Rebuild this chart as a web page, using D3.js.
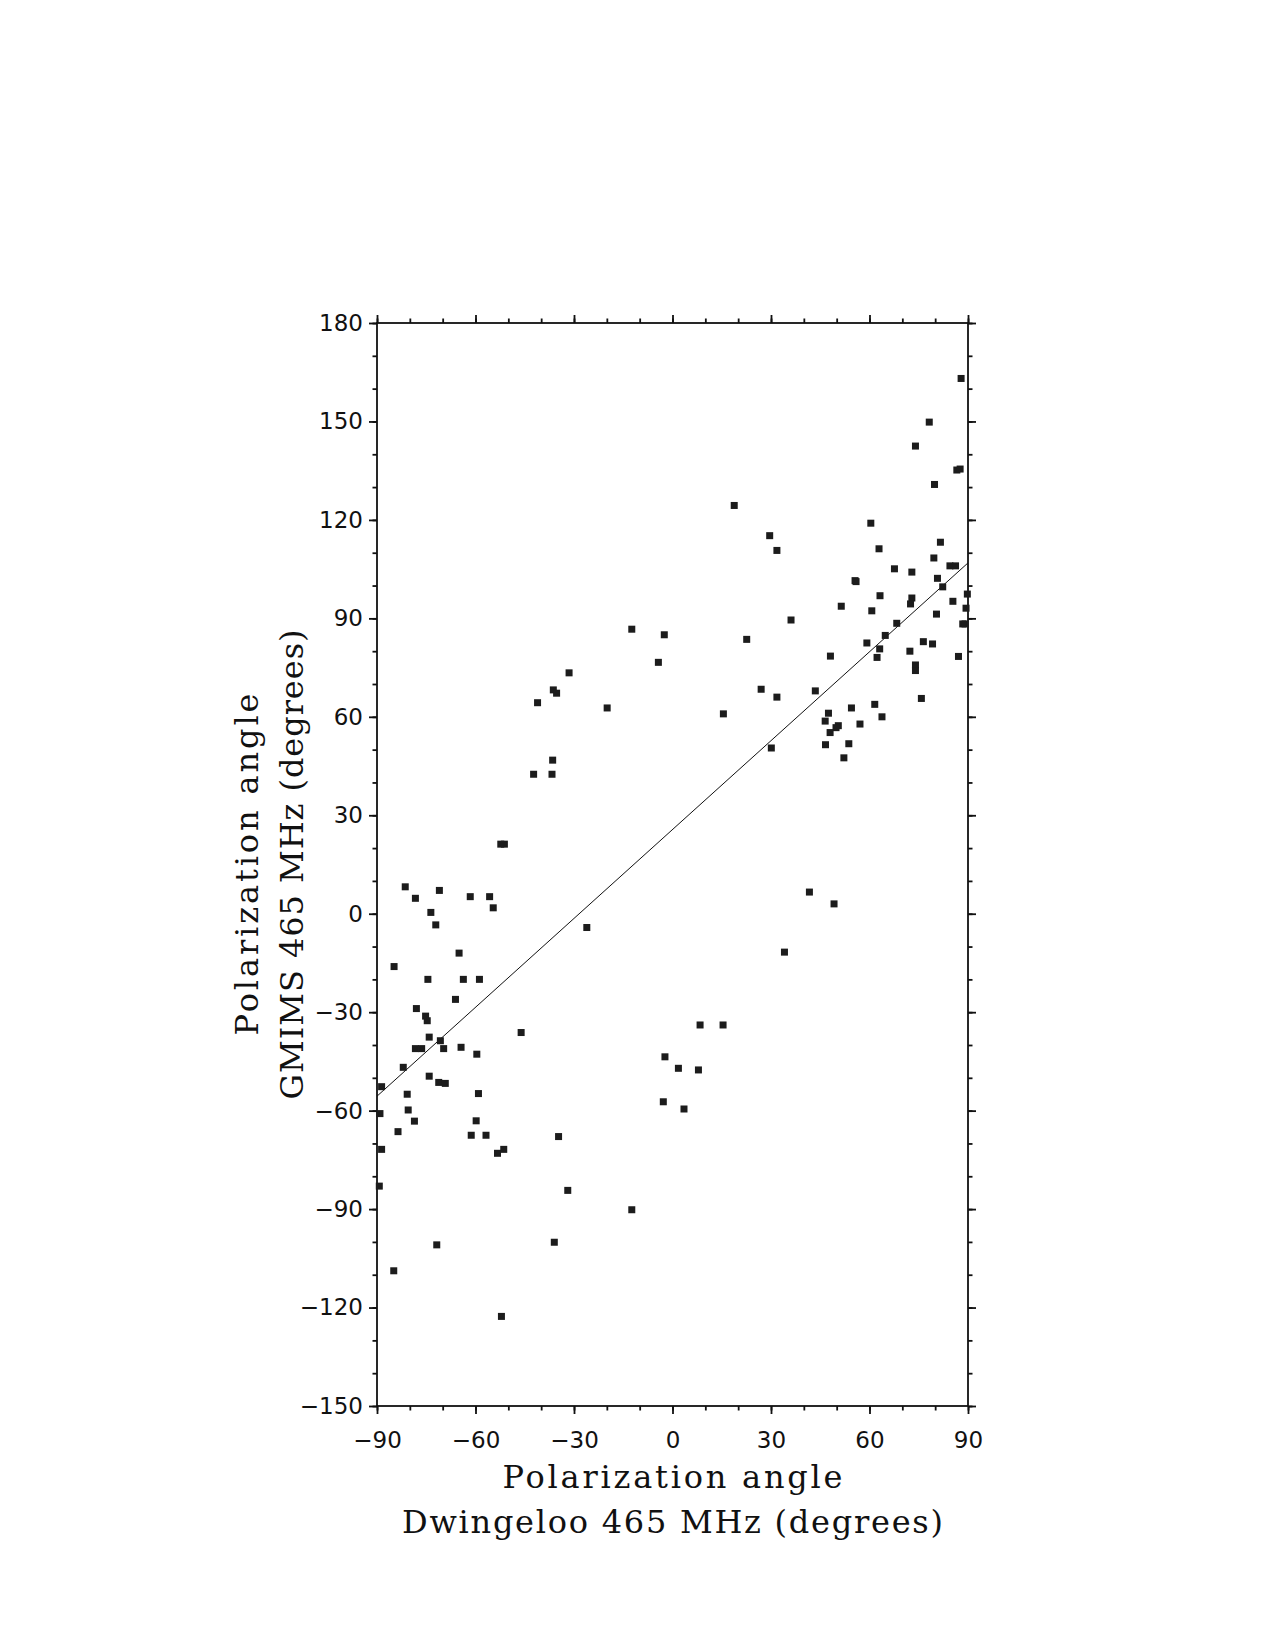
<!DOCTYPE html>
<html>
<head>
  <meta charset="utf-8" />
  <title>Polarization angle comparison</title>
  <script src="https://cdn.jsdelivr.net/npm/d3@7"></script>
  <style>
    body { margin: 0; background: #fff; }
    .tick text { font-family: "DejaVu Sans", sans-serif; font-size: 23px; fill: #111; }
    .title { font-family: "DejaVu Serif", serif; font-size: 32px; fill: #111; }
  </style>
</head>
<body>
  <div id="chart"></div>
  <script>
    // Dwingeloo angle (x) and GMIMS angle (y)
    const dwingeloo = [
      -12.4, -2.5, -4.3, -31.5, -36.3, -35.3, -41.1,
      87.9, 78.2, 74.0, 86.6, 87.6, 79.8, 18.8, 60.4, 29.6, 31.8, 81.6, 62.9, 79.6,
      84.5, 86.2, 67.6, 72.9, 55.6, 55.9, 80.7, 82.3, 89.8, 63.2, 72.9, 72.5, 85.4,
      51.4, 60.7, 89.4, 80.4, 36.1, 68.3, 88.4, 89.1, 22.6, 64.8, 59.2, 63.1, 62.3,
      76.4, 79.2, 72.3, 87.1, 48.1, 74.0, 74.0, 27.0, 31.8, 43.5, 75.8,
      15.5, 47.5, 54.5, 61.6, 63.8, 46.5, 57.1, 50.5, 49.8, 48.0, 30.1, 46.6, 53.7,
      52.2, 41.7, 49.2, 34.1, 8.4, 15.4,
      -19.9, -36.5, -42.3, -36.7, -52.3, -51.2, -81.4, -78.3, -71.0, -61.6, -55.7,
      -54.6, -73.6, -72.1, -26.1, -65.0, -84.8, -74.5, -63.7, -58.8, -66.1, -78.0,
      -75.2, -74.7, -46.1, -74.1, -70.7, -78.3, -76.4, -69.7, -64.4, -59.6, -2.3,
      -82.0, -74.1, -71.2, -69.2, -88.6, -80.8, -59.1, -2.8, -80.5, -89.1, -78.6,
      -59.8, -83.6, -61.3, -56.8, -34.7, -88.6, -51.4, -53.3, -89.3, -31.9, -12.4,
      -36.0, -71.8, -84.9, -52.1,
      1.8, 7.9, 3.5
    ];
    const gmims = [
      86.7, 85.0, 76.6, 73.4, 68.2, 67.2, 64.3,
      163.1, 149.8, 142.5, 135.2, 135.5, 130.8, 124.4, 119.0, 115.2, 110.7, 113.2, 111.2, 108.4,
      106.0, 106.0, 105.1, 104.1, 101.5, 101.2, 102.2, 99.6, 97.4, 96.9, 96.2, 94.4, 95.2,
      93.7, 92.3, 93.1, 91.3, 89.5, 88.5, 88.3, 88.3, 83.6, 84.8, 82.5, 80.7, 78.1,
      82.9, 82.2, 80.0, 78.4, 78.5, 75.8, 74.1, 68.4, 66.0, 67.9, 65.6,
      60.9, 61.1, 62.7, 63.8, 60.0, 58.7, 57.8, 57.3, 56.7, 55.2, 50.5, 51.5, 51.8,
      47.5, 6.6, 3.0, -11.7, -33.9, -33.9,
      62.7, 46.8, 42.5, 42.5, 21.2, 21.2, 8.2, 4.7, 7.1, 5.2, 5.2,
      1.8, 0.4, -3.4, -4.2, -12.0, -16.1, -20.0, -20.0, -20.0, -26.1, -28.9,
      -31.2, -32.6, -36.2, -37.6, -38.7, -41.1, -41.1, -41.1, -40.7, -42.8, -43.6,
      -46.8, -49.5, -51.4, -51.7, -52.7, -55.0, -54.8, -57.3, -59.8, -60.9, -63.2,
      -63.1, -66.4, -67.5, -67.5, -67.9, -71.8, -71.8, -73.0, -83.0, -84.3, -90.2,
      -100.1, -100.9, -108.8, -122.7,
      -47.1, -47.6, -59.5
    ];

    // fitted line, given by its ends
    const fitX = [-90, 90];
    const fitY = [-55.6, 106.9];

    const xTicks = [-90, -60, -30, 0, 30, 60, 90];
    const yTicks = [-150, -120, -90, -60, -30, 0, 30, 60, 90, 120, 150, 180];

    const W = 1275, H = 1650;
    const plotL = 377, plotR = 968, plotT = 323, plotB = 1406;

    const svg = d3.select("#chart").append("svg")
      .attr("width", W).attr("height", H);

    const x = d3.scaleLinear().domain([-90, 90]).range([plotL, plotR]);
    const y = d3.scaleLinear().domain([-150, 180]).range([plotB, plotT]);

    const xMinor = d3.range(-90, 91, 10);
    const yMinor = d3.range(-150, 181, 10);

    // draws major + minor ticks for one side
    function addAxis(axisFn, scale, major, minor, pos, labels) {
      const g = svg.append("g").attr("transform", pos);
      g.append("g").call(axisFn(scale).tickValues(minor).tickSize(4.5).tickFormat("").tickSizeOuter(0));
      g.append("g").call(axisFn(scale).tickValues(major).tickSize(8).tickPadding(6)
        .tickFormat(labels ? d3.format("d") : "").tickSizeOuter(0));
      g.selectAll(".domain").remove();
      g.selectAll(".tick line").attr("stroke", "#111").attr("stroke-width", 1.8);
      return g;
    }

    addAxis(d3.axisLeft, y, yTicks, yMinor, `translate(${plotL},0)`, true);
    addAxis(d3.axisRight, y, yTicks, yMinor, `translate(${plotR},0)`, false);
    const bx = addAxis(d3.axisBottom, x, xTicks, xMinor, `translate(0,${plotB})`, true);
    addAxis(d3.axisTop, x, xTicks, xMinor, `translate(0,${plotT})`, false);
    bx.selectAll(".tick text").attr("dy", "1.2em");

    // frame
    svg.append("rect")
      .attr("x", plotL).attr("y", plotT)
      .attr("width", plotR - plotL).attr("height", plotB - plotT)
      .attr("fill", "none").attr("stroke", "#111").attr("stroke-width", 1.8);

    // fit line
    svg.append("line")
      .attr("x1", x(fitX[0])).attr("y1", y(fitY[0]))
      .attr("x2", x(fitX[1])).attr("y2", y(fitY[1]))
      .attr("stroke", "#111").attr("stroke-width", 1);

    // points
    const pts = dwingeloo.map((d, i) => ({ a: d, b: gmims[i] }));
    const s = 7;
    svg.append("g").selectAll("rect")
      .data(pts)
      .enter()
      .append("rect")
      .attr("x", d => x(d.a) - s / 2)
      .attr("y", d => y(d.b) - s / 2)
      .attr("width", s).attr("height", s)
      .attr("fill", "#1c1c1c");

    // axis titles (the original lettering is widely spaced)
    const cx = (plotL + plotR) / 2, cy = (plotT + plotB) / 2;
    function title(txt, len, transform) {
      svg.append("text").attr("class", "title")
        .attr("transform", transform)
        .attr("text-anchor", "middle")
        .attr("textLength", len).attr("lengthAdjust", "spacing")
        .text(txt);
    }
    title("Polarization angle", 340, `translate(${cx},1488)`);
    title("Dwingeloo 465 MHz (degrees)", 541, `translate(${cx},1533)`);
    title("Polarization angle", 342, `translate(258,${cy}) rotate(-90)`);
    title("GMIMS 465 MHz (degrees)", 470, `translate(303,${cy}) rotate(-90)`);
  </script>
</body>
</html>
